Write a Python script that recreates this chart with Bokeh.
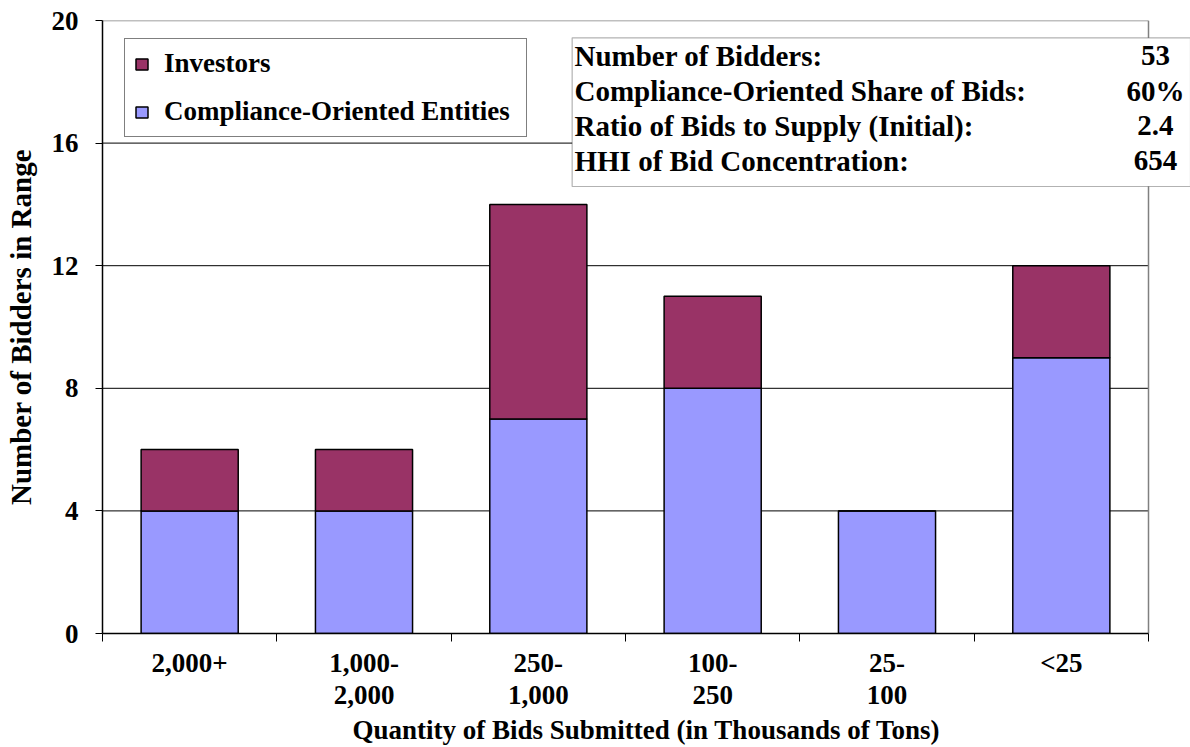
from bokeh.plotting import figure
from bokeh.models import (ColumnDataSource, FixedTicker, Range1d, Legend, LegendItem,
                          BoxAnnotation, Label)
from bokeh.embed import file_html
from bokeh.resources import INLINE

categories = ["2,000+", "1,000-\n2,000", "250-\n1,000", "100-\n250", "25-\n100", "<25"]
compliance = [4, 4, 7, 8, 4, 9]
investors = [2, 2, 7, 3, 0, 3]
y_ticks = [0, 4, 8, 12, 16, 20]
stat_names = ["Number of Bidders:", "Compliance-Oriented Share of Bids:",
              "Ratio of Bids to Supply (Initial):", "HHI of Bid Concentration:"]
stat_values = ["53", "60%", "2.4", "654"]

FONT = "Liberation Serif"
COMP_COLOR = "#9999FF"
INV_COLOR = "#993366"
GRAY = "#808080"

n = len(categories)
xs = [i + 0.5 for i in range(n)]
src = ColumnDataSource(dict(x=xs, comp=compliance, inv=investors))

# frame runs from x=102 to the right edge of the canvas; the category area ends at x=n
X_END = n * (1190 - 102) / (1148 - 102)

p = figure(width=1190, height=747, output_backend="svg", toolbar_location=None,
           x_range=Range1d(0, X_END), y_range=Range1d(0, 20),
           min_border_left=102, min_border_right=0, min_border_top=20, min_border_bottom=114)

# grid lines and plot-area border (stop at the category area's right edge)
inner = y_ticks[1:-1]
p.segment(x0=[0] * len(inner), x1=[n] * len(inner), y0=inner, y1=inner,
          line_color="black", line_width=1)
p.segment(x0=[0, n], x1=[n, n], y0=[y_ticks[-1], 0], y1=[y_ticks[-1], y_ticks[-1]],
          line_color=GRAY, line_width=1.5)

rs = p.vbar_stack(["comp", "inv"], x="x", width=0.557, source=src,
                  fill_color=[COMP_COLOR, INV_COLOR], line_color="black", line_width=1.5)

# axes
p.xaxis.ticker = FixedTicker(ticks=xs, minor_ticks=list(range(n + 1)))
p.xaxis.major_label_overrides = {x: c for x, c in zip(xs, categories)}
p.xaxis.bounds = (0, n)
p.xaxis.major_tick_out = 0
p.xaxis.major_tick_in = 0
p.xaxis.minor_tick_out = 8
p.xaxis.minor_tick_in = 0
p.xaxis.minor_tick_line_color = "black"
p.xaxis.major_label_standoff = 6
p.xaxis.axis_label = "Quantity of Bids Submitted (in Thousands of Tons)"
p.xaxis.axis_label_standoff = 2

p.yaxis.ticker = FixedTicker(ticks=y_ticks)
p.yaxis.minor_tick_line_color = None
p.yaxis.major_tick_out = 7
p.yaxis.major_tick_in = 0
p.yaxis.major_label_standoff = 17
p.yaxis.axis_label = "Number of Bidders in Range"
p.yaxis.axis_label_standoff = 12

for ax in (p.xaxis[0], p.yaxis[0]):
    ax.axis_line_color = "black"
    ax.axis_line_width = 1.5
    ax.major_tick_line_color = "black"
    ax.major_label_text_font = FONT
    ax.major_label_text_font_style = "bold"
    ax.major_label_text_font_size = "27px"
    ax.major_label_text_color = "black"
    ax.axis_label_text_font = FONT
    ax.axis_label_text_font_style = "bold"
    ax.axis_label_text_font_size = "27px"
    ax.axis_label_text_color = "black"
p.yaxis.axis_label_text_font_size = "29px"
p.xaxis.major_label_text_line_height = 1.08

p.grid.visible = False
p.outline_line_color = None
p.background_fill_color = "white"
p.border_fill_color = "white"

legend = Legend(items=[LegendItem(label="Investors", renderers=[rs[1]]),
                       LegendItem(label="Compliance-Oriented Entities", renderers=[rs[0]])],
                location=(22, 496), padding=9, spacing=17,
                glyph_width=15, glyph_height=14, label_standoff=15, label_height=30,
                label_width=353,
                label_text_font=FONT, label_text_font_style="bold",
                label_text_font_size="27px", label_text_color="black",
                label_text_baseline="middle",
                border_line_color="black", border_line_width=1.2,
                background_fill_alpha=1)
p.add_layout(legend)

# statistics box
p.add_layout(BoxAnnotation(left=2.694, right=X_END, top=19.436, bottom=14.584,
                           fill_color="white", fill_alpha=1,
                           line_color="black", line_width=1.2))
row_y = [18.858, 17.716, 16.574, 15.432]
for name, val, yy in zip(stat_names, stat_values, row_y):
    p.add_layout(Label(x=2.7075, y=yy, text=name, text_font=FONT, text_font_style="bold",
                       text_font_size="29px", text_baseline="middle", text_align="left",
                       text_color="black"))
    p.add_layout(Label(x=6.04, y=yy, text=val, text_font=FONT, text_font_style="bold",
                       text_font_size="29px", text_baseline="middle", text_align="center",
                       text_color="black"))

open("out.html", "w").write(file_html(p, INLINE))
